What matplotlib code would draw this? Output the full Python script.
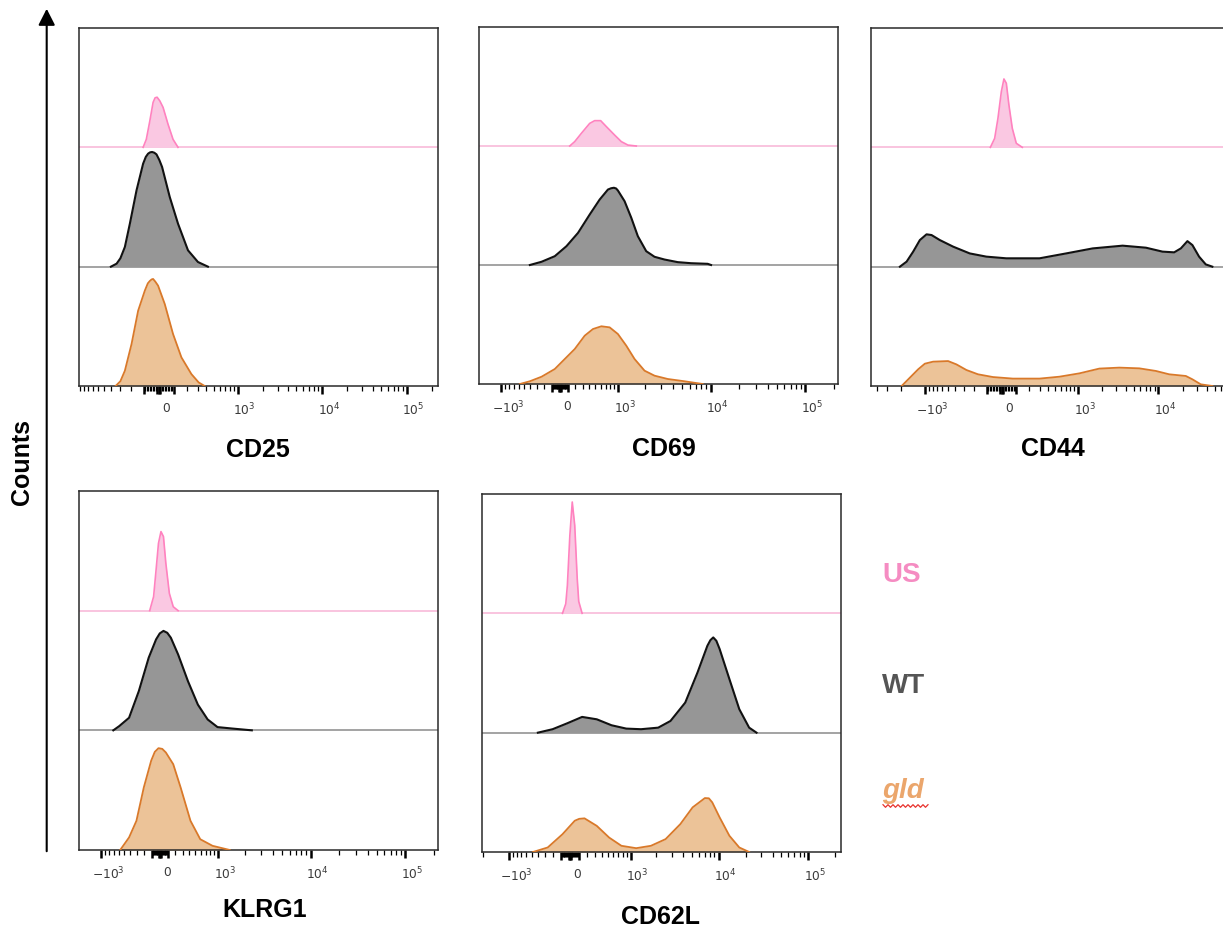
import numpy as np
import matplotlib
matplotlib.use("Agg")
import matplotlib.pyplot as plt
from matplotlib.transforms import ScaledTranslation
from matplotlib.patches import FancyArrowPatch, ArrowStyle
from matplotlib.lines import Line2D

plt.rcParams["font.family"] = ["Liberation Sans", "DejaVu Sans"]
plt.rcParams["mathtext.fontset"] = "dejavusans"

# ---------------------------------------------------------------------------
# Histogram outlines: display channel (0-360) and count as fraction of lane
# ---------------------------------------------------------------------------
MARKERS = ["CD25", "CD69", "CD44", "KLRG1", "CD62L"]
GROUPS = ["US", "WT", "gld"]

CD25_US_CH = [64.3, 67.5, 71.0, 74.3, 76.3, 78.3, 81.0, 84.3, 89.3, 94.3, 99.3]
CD25_US_Y = [0, 0.067, 0.22, 0.377, 0.415, 0.42, 0.39, 0.335, 0.193, 0.067, 0]
CD25_WT_CH = [32, 37.7, 41.5, 46, 51, 57.7, 64.3, 67, 69.3, 71.3, 73.3, 75.5, 77.7,
              80.5, 83.3, 91, 99.3, 109.3, 119.3, 129.3]
CD25_WT_Y = [0, 0.025, 0.07, 0.165, 0.36, 0.64, 0.863, 0.92, 0.947, 0.958, 0.961,
             0.955, 0.941, 0.895, 0.836, 0.584, 0.36, 0.137, 0.039, 0]
CD25_GLD_CH = [36.7, 41.5, 46, 52.7, 59.3, 66, 69, 71, 72.8, 74.3, 76.5, 79.3, 86,
               94.3, 102.7, 112.7, 120, 126]
CD25_GLD_Y = [0, 0.04, 0.128, 0.352, 0.631, 0.799, 0.86, 0.88, 0.893, 0.897, 0.875,
              0.841, 0.687, 0.436, 0.24, 0.1, 0.03, 0]

CD69_US_CH = [91, 96, 102.7, 111, 116, 122, 127.7, 136, 142.7, 149.3, 157.7]
CD69_US_Y = [0, 0.037, 0.107, 0.19, 0.213, 0.213, 0.163, 0.092, 0.037, 0.008, 0]
CD69_WT_CH = [51, 62.7, 76, 87.7, 99.3, 111, 121, 129.3, 132.5, 135.3, 137.5, 139.3,
              146, 152.7, 159.3, 167.7, 176, 186, 199.3, 212.7, 229.3, 232.7]
CD69_WT_Y = [0, 0.027, 0.074, 0.158, 0.27, 0.424, 0.55, 0.634, 0.645, 0.649, 0.643,
             0.626, 0.536, 0.397, 0.242, 0.116, 0.069, 0.046, 0.024, 0.015, 0.01, 0]
CD69_GLD_CH = [41, 51, 62.7, 76, 86, 96, 106, 114.3, 122.7, 131, 139.3, 147.7, 156,
               166, 176, 189.3, 206, 224.3]
CD69_GLD_Y = [0, 0.023, 0.061, 0.126, 0.21, 0.294, 0.406, 0.462, 0.485, 0.476, 0.42,
              0.322, 0.21, 0.112, 0.07, 0.042, 0.023, 0]

CD44_US_CH = [119.7, 124, 127.3, 130.7, 133.3, 135.7, 138.3, 141.7, 145.7, 151.7]
CD44_US_Y = [0, 0.075, 0.243, 0.467, 0.573, 0.537, 0.355, 0.159, 0.034, 0]
CD44_WT_CH = [29, 35.7, 42.3, 49, 55.7, 60.7, 69, 82.3, 99, 115.7, 135.7, 169, 195.7,
              222.3, 252.3, 275.7, 292.3, 304, 310.7, 317.3, 322.3, 329, 335.7, 342.3]
CD44_WT_Y = [0, 0.042, 0.126, 0.223, 0.271, 0.265, 0.223, 0.168, 0.111, 0.084, 0.07,
             0.07, 0.111, 0.153, 0.176, 0.159, 0.126, 0.12, 0.153, 0.214, 0.181,
             0.084, 0.019, 0]
CD44_GLD_CH = [30.7, 39, 47.3, 54, 62.3, 77.3, 85.7, 95.7, 107.3, 122.3, 142.3, 169,
               189, 209, 229, 249, 269, 285.7, 299, 315.7, 322.3, 330.7, 342.3]
CD44_GLD_Y = [0, 0.07, 0.14, 0.187, 0.204, 0.209, 0.181, 0.134, 0.098, 0.075, 0.062,
              0.062, 0.078, 0.106, 0.146, 0.154, 0.148, 0.126, 0.098, 0.084, 0.056,
              0.014, 0]

KLRG1_US_CH = [70.9, 74.8, 77.3, 79.7, 82.2, 84.7, 87.1, 90.6, 94.5, 99.4]
KLRG1_US_Y = [0, 0.117, 0.341, 0.563, 0.661, 0.619, 0.395, 0.145, 0.033, 0]
KLRG1_WT_CH = [34.4, 40.3, 50.2, 60, 69.9, 77.3, 81, 84.7, 88.5, 92.1, 99.4, 109.3,
               119.2, 129, 138.9, 153.6, 173.3]
KLRG1_WT_Y = [0, 0.035, 0.105, 0.328, 0.607, 0.76, 0.81, 0.831, 0.815, 0.774, 0.634,
              0.41, 0.215, 0.091, 0.027, 0.015, 0]
KLRG1_GLD_CH = [41.3, 50.2, 57.6, 65, 72.4, 76, 79.7, 83.5, 87.1, 94.5, 101.9, 111.8,
                121.6, 133.9, 151.2]
KLRG1_GLD_Y = [0, 0.105, 0.244, 0.523, 0.747, 0.82, 0.851, 0.845, 0.815, 0.717,
               0.523, 0.244, 0.090, 0.035, 0]

CD62L_US_CH = [80.7, 84, 85.6, 88.1, 90.5, 93, 95.5, 97, 100.4]
CD62L_US_Y = [0, 0.08, 0.233, 0.653, 0.933, 0.737, 0.289, 0.1, 0]
CD62L_WT_CH = [56, 70.8, 85.6, 100.4, 115.1, 129.9, 144.7, 159.5, 176.7, 189, 203.8,
               216.1, 226, 229, 231.9, 235, 238.3, 248.1, 258, 267.9, 275.3]
CD62L_WT_Y = [0, 0.029, 0.079, 0.132, 0.112, 0.062, 0.034, 0.029, 0.042, 0.098,
              0.252, 0.504, 0.728, 0.775, 0.798, 0.77, 0.701, 0.449, 0.197, 0.042, 0]
CD62L_GLD_CH = [51.1, 65.9, 80.7, 93, 97.5, 102.8, 115.1, 127.5, 139.8, 154.6, 169.4,
                184.1, 198.9, 211.2, 223.5, 227.5, 230.9, 238.3, 248.1, 258, 267.9]
CD62L_GLD_Y = [0, 0.038, 0.149, 0.262, 0.278, 0.282, 0.219, 0.121, 0.052, 0.032,
               0.052, 0.108, 0.234, 0.374, 0.452, 0.45, 0.416, 0.29, 0.136, 0.038, 0]

CURVES = {
    "CD25": [(CD25_US_CH, CD25_US_Y), (CD25_WT_CH, CD25_WT_Y), (CD25_GLD_CH, CD25_GLD_Y)],
    "CD69": [(CD69_US_CH, CD69_US_Y), (CD69_WT_CH, CD69_WT_Y), (CD69_GLD_CH, CD69_GLD_Y)],
    "CD44": [(CD44_US_CH, CD44_US_Y), (CD44_WT_CH, CD44_WT_Y), (CD44_GLD_CH, CD44_GLD_Y)],
    "KLRG1": [(KLRG1_US_CH, KLRG1_US_Y), (KLRG1_WT_CH, KLRG1_WT_Y),
              (KLRG1_GLD_CH, KLRG1_GLD_Y)],
    "CD62L": [(CD62L_US_CH, CD62L_US_Y), (CD62L_WT_CH, CD62L_WT_Y),
              (CD62L_GLD_CH, CD62L_GLD_Y)],
}

# Biexponential display per marker: zero channel, channels per decade, linear width
BIEX = {
    "CD25": (80, 85, 119),
    "CD69": (81, 95, 256),
    "CD44": (131, 81, 115),
    "KLRG1": (81, 95, 256),
    "CD62L": (88, 90, 220),
}
LABELLED = {
    "CD25": [0, 1e3, 1e4, 1e5],
    "CD69": [-1e3, 0, 1e3, 1e4, 1e5],
    "CD44": [-1e3, 0, 1e3, 1e4],
    "KLRG1": [-1e3, 0, 1e3, 1e4, 1e5],
    "CD62L": [-1e3, 0, 1e3, 1e4, 1e5],
}
N_CHANNELS = 360

# ---------------------------------------------------------------------------
W_PX, H_PX = 1223, 928
fig = plt.figure(figsize=(W_PX / 100, H_PX / 100), dpi=100)

# panel boxes in pixels: left, top, width, height
BOXES = {
    "CD25": (79, 29, 359, 358),
    "CD69": (479, 28, 359, 357),
    "CD44": (871, 29, 359, 358),
    "KLRG1": (79, 492, 359, 359),
    "CD62L": (482, 495, 359, 358),
}
XLABEL_POS = {
    "CD25": (258, 457), "CD69": (664, 456), "CD44": (1053, 456),
    "KLRG1": (265, 917), "CD62L": (661, 924),
}

FILL = ["#fac8e2", "#969696", "#ecc398"]
EDGE = ["#ff82bf", "#111111", "#d9792a"]
EDGE_W = [1.2, 1.5, 1.3]
BASE_COLOR = ["#f8b4d6", "#8a8a8a"]


def biex(v, zero, decade, width):
    v = np.asarray(v, dtype=float)
    return zero + decade * np.arcsinh(v / (2.0 * width)) / np.log(10)


def tick_text(v):
    if v == 0:
        return "0"
    s = "10$^{%d}$" % int(round(np.log10(abs(v))))
    return ("\u2212" + s) if v < 0 else s


def fig_box(l, t, w, h):
    return [l / W_PX, 1 - (t + h) / H_PX, w / W_PX, h / H_PX]


label_shift = ScaledTranslation(7 / 100, 0, fig.dpi_scale_trans)

for marker in MARKERS:
    ax = fig.add_axes(fig_box(*BOXES[marker]))
    ax.set_xlim(0, N_CHANNELS)
    ax.set_ylim(0, 3)
    zero, decade, width = BIEX[marker]

    # lane baselines for the upper two lanes
    for lane, col in zip([2, 1], BASE_COLOR):
        ax.axhline(lane, color=col, lw=1.1, zorder=1)

    for i, (ch, y) in enumerate(CURVES[marker]):
        base = 2 - i
        top = base + np.asarray(y)
        ax.fill_between(ch, base, top, color=FILL[i], lw=0, zorder=2)
        ax.plot(ch, top, color=EDGE[i], lw=EDGE_W[i], zorder=3,
                solid_joinstyle="round")

    # biexponential ticks
    labelled = LABELLED[marker]
    major_vals = sorted(set(labelled) | {0, 10, -10, 100, -100})
    minor_vals = []
    for k in range(1, 6):
        for m in range(1, 10):
            for s in (1, -1):
                v = s * m * 10 ** k
                if v not in major_vals:
                    minor_vals.append(v)
    major_pos = biex(major_vals, zero, decade, width)
    minor_pos = biex(minor_vals, zero, decade, width)
    keep_major = (major_pos >= 0) & (major_pos <= N_CHANNELS)
    keep_minor = (minor_pos >= 0.5) & (minor_pos <= N_CHANNELS)
    ax.set_xticks(major_pos[keep_major],
                  [tick_text(v) if v in labelled else ""
                   for v, k in zip(major_vals, keep_major) if k])
    ax.set_xticks(minor_pos[keep_minor], minor=True)
    ax.set_yticks([])
    ax.tick_params(axis="x", which="major", direction="out", length=6, width=1.8,
                   pad=4.5, labelsize=8.8, labelcolor="#3a3a3a",
                   labelfontfamily="DejaVu Sans")
    ax.tick_params(axis="x", which="minor", direction="out", length=3.6, width=0.9)
    for lbl in ax.xaxis.get_majorticklabels():
        lbl.set_transform(lbl.get_transform() + label_shift)
    for sp in ax.spines.values():
        sp.set_color("#2a2a2a")
        sp.set_linewidth(1.1)

    lx, ly = XLABEL_POS[marker]
    fig.text(lx / W_PX, 1 - ly / H_PX, marker, ha="center", va="baseline",
             fontsize=18, fontweight="bold", color="black")

# group key
KEY = [("US", "#f58cc2", "normal", 581.5), ("WT", "#555555", "normal", 693),
       ("gld", "#eba66c", "italic", 798)]
for text, col, style, base_y in KEY:
    fig.text(882 / W_PX, 1 - base_y / H_PX, text, ha="left", va="baseline",
             fontsize=20, fontweight="bold", fontstyle=style, color=col)

# wavy underline beneath the key entry
wx = np.arange(883, 929.5, 2.5)
wy = 807 + np.where(np.arange(len(wx)) % 2 == 0, -1.3, 1.3)
fig.add_artist(Line2D(wx / W_PX, 1 - wy / H_PX, color="#e8322d", lw=0.9,
                      transform=fig.transFigure))

# counts axis arrow
arrow = FancyArrowPatch((46.7 / W_PX, 1 - 855 / H_PX), (46.7 / W_PX, 1 - 7 / H_PX),
                        transform=fig.transFigure,
                        arrowstyle=ArrowStyle("-|>", head_length=0.55, head_width=0.28),
                        mutation_scale=18, color="black", lw=1.5)
fig.add_artist(arrow)
fig.text(22 / W_PX, 1 - 462 / H_PX, "Counts", rotation=90, ha="center", va="center",
         fontsize=18, fontweight="bold")

fig.savefig("out.png", dpi=100)
